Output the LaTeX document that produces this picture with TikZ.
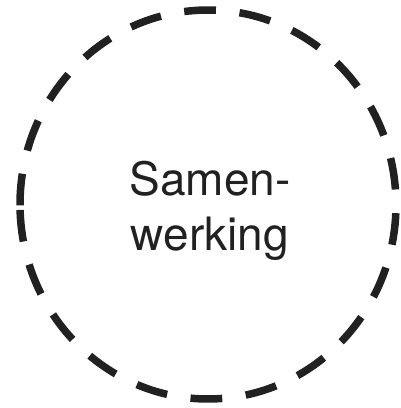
\documentclass[tikz,border=0pt]{standalone}
\usepackage{fontspec}
\setmainfont{TeX Gyre Heros}
\begin{document}
\begin{tikzpicture}[x=1pt, y=1pt,
        ring/.style = {draw=black!87, line width=7.5pt, dash pattern=on 31.8pt off 23.7pt, line cap=butt},
        tekst/.style = {align=center, text=black!87, font=\fontsize{46}{55}\selectfont}]
    \useasboundingbox (0,0) rectangle (401,408);

    % dashed ring, started just below its left point so the seam sits there
    \draw[ring] (208,203.5) ++(181.6:188 and 194.5)
        arc[start angle=181.6, end angle=541.6, x radius=188, y radius=194.5];

    \node[tekst] (samen) at (210,197) {Samen-\\werking};
\end{tikzpicture}
\end{document}
